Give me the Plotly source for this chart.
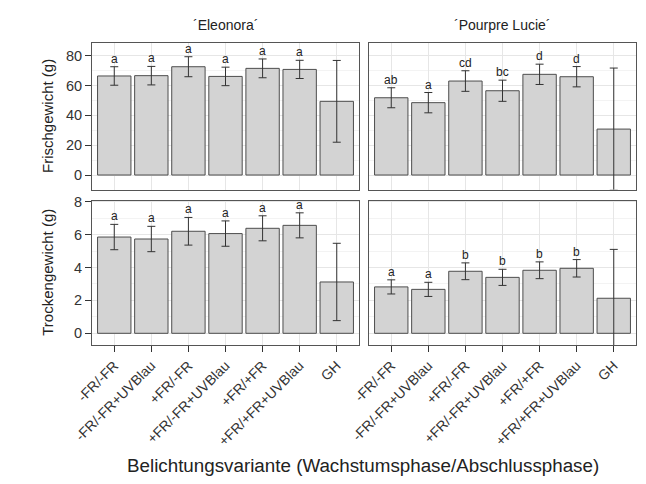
import plotly.graph_objects as go

categories = ["-FR/-FR", "-FR/-FR+UVBlau", "+FR/-FR", "+FR/-FR+UVBlau",
              "+FR/+FR", "+FR/+FR+UVBlau", "GH"]

fw_eleonora = [66.4, 66.6, 72.6, 66.1, 71.5, 70.8, 49.4]
fw_eleonora_err = [6.2, 6.2, 6.7, 6.2, 6.3, 6.1, 27.4]
fw_lucie = [51.8, 48.5, 63.0, 56.5, 67.5, 65.9, 30.8]
fw_lucie_err = [6.7, 6.8, 6.9, 7.1, 6.8, 6.8, 40.9]

tw_eleonora = [5.85, 5.73, 6.20, 6.06, 6.38, 6.56, 3.12]
tw_eleonora_err = [0.77, 0.77, 0.84, 0.77, 0.76, 0.76, 2.35]
tw_lucie = [2.82, 2.67, 3.77, 3.40, 3.83, 3.95, 2.13]
tw_lucie_err = [0.43, 0.43, 0.51, 0.49, 0.51, 0.53, 2.97]

fw_eleonora_letters = ["a", "a", "a", "a", "a", "a", ""]
fw_lucie_letters = ["ab", "a", "cd", "bc", "d", "d", ""]
tw_eleonora_letters = ["a", "a", "a", "a", "a", "a", ""]
tw_lucie_letters = ["a", "a", "b", "b", "b", "b", ""]

panel_titles = ["´Eleonora´", "´Pourpre Lucie´"]
y_titles = ["Frischgewicht (g)", "Trockengewicht (g)"]
x_title = "Belichtungsvariante (Wachstumsphase/Abschlussphase)"

FONT = "Liberation Sans, Arial, sans-serif"
W, H = 646, 484

panels = [
    ("x", "y", fw_eleonora, fw_eleonora_err, fw_eleonora_letters),
    ("x2", "y2", fw_lucie, fw_lucie_err, fw_lucie_letters),
    ("x3", "y3", tw_eleonora, tw_eleonora_err, tw_eleonora_letters),
    ("x4", "y4", tw_lucie, tw_lucie_err, tw_lucie_letters),
]

fig = go.Figure()
annotations = []
for xa, ya, vals, errs, letters in panels:
    fig.add_trace(go.Bar(
        x=categories, y=vals, xaxis=xa, yaxis=ya, width=0.9,
        marker=dict(color="#D3D3D3", line=dict(color="#4D4D4D", width=1)),
        error_y=dict(type="data", array=errs, visible=True,
                     color="#333333", thickness=1, width=4),
        showlegend=False, hoverinfo="skip",
    ))
    for c, v, e, t in zip(categories, vals, errs, letters):
        if t:
            annotations.append(dict(
                x=c, y=v + e, xref=xa, yref=ya, text=t,
                showarrow=False, yanchor="bottom", yshift=-1,
                font=dict(family=FONT, size=12, color="#222222")))

def px_x(p):
    return p / W

def px_y(p):
    return 1 - p / H

xdom_left = [px_x(92), px_x(359)]
xdom_right = [px_x(369), px_x(636)]
ydom_top = [px_y(189.5), px_y(43)]
ydom_bot = [px_y(345), px_y(200.5)]

grid_major = "#E6E6E6"
grid_minor = "#F3F3F3"
border = "#555555"

def xaxis(dom, anchor, labels):
    return dict(
        domain=dom, anchor=anchor, type="category", automargin=False,
        categoryorder="array", categoryarray=categories,
        range=[-0.6, 6.6],
        showline=True, mirror=True, linecolor=border, linewidth=1,
        showgrid=True, gridcolor=grid_major, gridwidth=1,
        ticks="outside" if labels else "", ticklen=6, tickcolor="#333333",
        showticklabels=labels, tickangle=-45,
        tickfont=dict(family=FONT, size=14, color="#333333"),
        zeroline=False,
    )

def yaxis(dom, anchor, rng, dtick, labels):
    return dict(
        domain=dom, anchor=anchor, range=rng, dtick=dtick, tick0=0,
        automargin=False,
        showline=True, mirror=True, linecolor=border, linewidth=1,
        showgrid=True, gridcolor=grid_major, gridwidth=1,
        minor=dict(dtick=dtick / 2, tick0=0, showgrid=True,
                   gridcolor=grid_minor, gridwidth=1),
        ticks="outside" if labels else "", ticklen=6, tickcolor="#333333",
        showticklabels=labels,
        tickfont=dict(family=FONT, size=14.5, color="#333333"),
        zeroline=False,
    )

top_range = [-9.7, 88.5]
bot_range = [-0.71, 8.07]

fig.update_layout(
    width=W, height=H, autosize=False,
    margin=dict(l=0, r=0, t=0, b=0, pad=0, autoexpand=False),
    paper_bgcolor="white", plot_bgcolor="white",
    font=dict(family=FONT, color="#222222"),
    xaxis=xaxis(xdom_left, "y", False),
    xaxis2=xaxis(xdom_right, "y2", False),
    xaxis3=xaxis(xdom_left, "y3", True),
    xaxis4=xaxis(xdom_right, "y4", True),
    yaxis=yaxis(ydom_top, "x", top_range, 20, True),
    yaxis2=yaxis(ydom_top, "x2", top_range, 20, False),
    yaxis3=yaxis(ydom_bot, "x3", bot_range, 2, True),
    yaxis4=yaxis(ydom_bot, "x4", bot_range, 2, False),
)

annotations += [
    dict(text=panel_titles[0], x=px_x(225.5), y=px_y(25), xref="paper", yref="paper",
         showarrow=False, xanchor="center", yanchor="middle",
         font=dict(family=FONT, size=14, color="#222222")),
    dict(text=panel_titles[1], x=px_x(502.5), y=px_y(25), xref="paper", yref="paper",
         showarrow=False, xanchor="center", yanchor="middle",
         font=dict(family=FONT, size=14, color="#222222")),
    dict(text=y_titles[0], x=px_x(48), y=px_y(116), xref="paper", yref="paper",
         showarrow=False, xanchor="center", yanchor="middle", textangle=-90,
         font=dict(family=FONT, size=15, color="#222222")),
    dict(text=y_titles[1], x=px_x(48), y=px_y(272.75), xref="paper", yref="paper",
         showarrow=False, xanchor="center", yanchor="middle", textangle=-90,
         font=dict(family=FONT, size=15, color="#222222")),
    dict(text=x_title, x=px_x(362.5), y=px_y(465), xref="paper", yref="paper",
         showarrow=False, xanchor="center", yanchor="middle",
         font=dict(family=FONT, size=18.8, color="#222222")),
]
fig.update_layout(annotations=annotations)

fig.write_html("out.html", config={"displayModeBar": False},
               post_script="document.body.style.margin='0';document.body.style.padding='0';")
